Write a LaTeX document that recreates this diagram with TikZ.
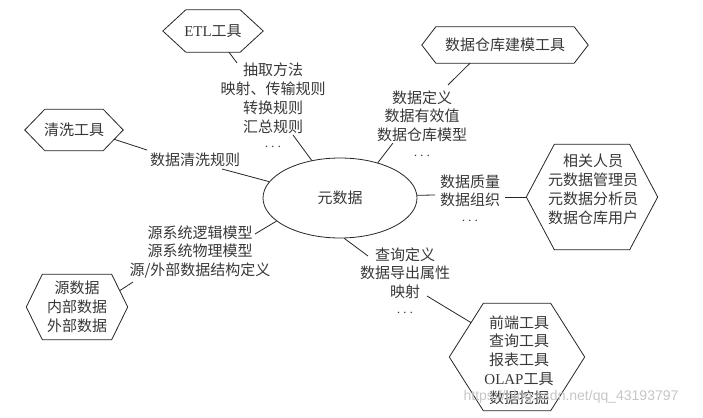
\documentclass[tikz,border=0pt]{standalone}
\usepackage{fontspec}
\setmainfont{Noto Sans CJK SC}
\newfontfamily\latfont{Liberation Serif}
\newfontfamily\wmfont{Liberation Sans}
\usetikzlibrary{shapes.geometric,calc}
\newcommand\hexshape[2]{\draw[hexline] ([xshift=#2]#1.north west) -- ([xshift=-#2]#1.north east) -- (#1.east) -- ([xshift=-#2]#1.south east) -- ([xshift=#2]#1.south west) -- (#1.west) -- cycle;}
\begin{document}
\begin{tikzpicture}[x=1pt,y=-1pt,
  txt/.style={font=\fontsize{15pt}{18.8pt}\selectfont, text=black!78, inner sep=0pt, align=center},
  hexline/.style={draw=black!85, line width=0.8pt, line join=miter},
  link/.style={draw=black!85, line width=0.8pt},
  dots/.style={}]
\useasboundingbox (0,0) rectangle (703,417);
\fill[white] (0,0) rectangle (703,417);

% hexagon boxes
\node[txt, minimum width=100pt, minimum height=42pt] (etl) at (213,31) {{\latfont ETL}工具};
\hexshape{etl}{23pt}
\node[txt, minimum width=166pt, minimum height=36pt] (dwm) at (505,45) {数据仓库建模工具};
\hexshape{dwm}{14pt}
\node[txt, minimum width=98pt, minimum height=41pt] (clean) at (74,130) {清洗工具};
\hexshape{clean}{20pt}
\node[txt, minimum width=131pt, minimum height=105pt] (people) at (592,197) {};
\hexshape{people}{28pt}
\node[txt] (peoplet) at (593,189.5) {相关人员\\元数据管理员\\元数据分析员\\数据仓库用户};
\node[txt, minimum width=101pt, minimum height=65pt] (src) at (77,307) {源数据\\内部数据\\外部数据};
\hexshape{src}{16pt}
\node[txt, minimum width=135pt, minimum height=107pt] (front) at (517,357) {};
\hexshape{front}{34pt}
\node[txt] (frontt) at (519,360) {前端工具\\查询工具\\报表工具\\{\latfont OLAP}工具\\数据挖掘};

% centre
\node[txt, ellipse, draw=black!85, line width=0.8pt, minimum width=154pt, minimum height=80pt] (meta) at (340,198) {元数据};

% labels
\node[txt] (etlt) at (273,107) {抽取方法\\映射、传输规则\\转换规则\\汇总规则\\$\cdots$};
\node[txt] (dwmt) at (422,125) {数据定义\\数据有效值\\数据仓库模型\\$\cdots$};
\node[txt] (cleant) at (195,160) {数据清洗规则};
\node[txt] (qualt) at (470,199.5) {数据质量\\数据组织\\$\cdots$};
\node[txt] (srct) at (200,252) {源系统逻辑模型\\源系统物理模型\\源/外部数据结构定义};
\node[txt] (queryt) at (405,282) {查询定义\\数据导出属性\\映射\\$\cdots$};

% free ends of connectors
\coordinate (k1) at (237,63);
\coordinate (k2) at (293,135);
\coordinate (k3) at (448,85);
\coordinate (k4) at (393,143);
\coordinate (k5) at (147,150);
\coordinate (k6) at (222,169);
\coordinate (k7) at (435,195);
\coordinate (k8) at (505,197);
\coordinate (k9) at (255,234);
\coordinate (k10) at (133,282);
\coordinate (k11) at (368,256);
\coordinate (k12) at (427,296);

% connectors
\draw[link] ([xshift=16pt]etl.south) -- (k1);
\draw[link] (k2) -- (meta.127);
\draw[link] ([xshift=-35pt]dwm.south) -- (k3);
\draw[link] (k4) -- (meta.43);
\draw[link] ($(clean.east)!0.45!([xshift=-20pt]clean.south east)$) -- (k5);
\draw[link] (k6) -- (meta.167);
\draw[link] (meta.2) -- (k7);
\draw[link] (k8) -- (people.west);
\draw[link] (k9) -- (meta.200);
\draw[link] ($(src.east)!0.5!([xshift=-16pt]src.north east)$) -- (k10);
\draw[link] (meta.-84) -- (k11);
\draw[link] (k12) -- ($(front.west)!0.64!([xshift=34pt]front.north west)$);

% watermark
\node[font=\wmfont\fontsize{14pt}{16pt}\selectfont, text=black!22, inner sep=0pt] (wm) at (571,397) {https://blog.csdn.net/qq\_43193797};
\end{tikzpicture}
\end{document}
